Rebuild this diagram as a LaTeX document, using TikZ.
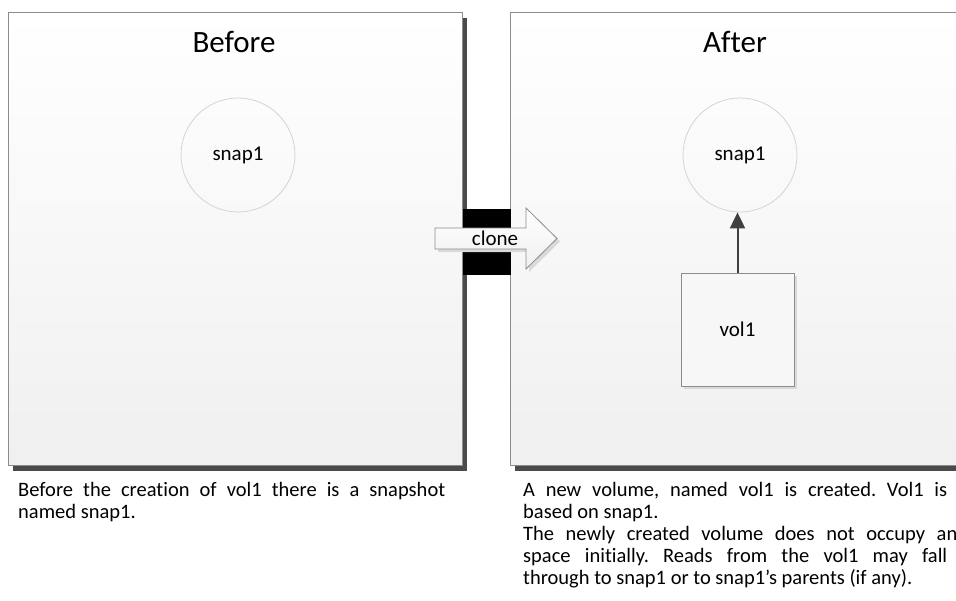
\documentclass[tikz,border=0pt]{standalone}
\usepackage{fontspec}
\setmainfont{Carlito}[Ligatures={NoCommon}]
\usetikzlibrary{arrows.meta,shadows}
\definecolor{frameline}{HTML}{8C8C8C}
\definecolor{shadeline}{HTML}{4A4A4A}
\definecolor{ringline}{HTML}{D4D4D4}
\definecolor{linkline}{HTML}{404040}
\tikzset{
  panel/.style={draw=frameline, line width=0.8pt, top color=white, bottom color=black!6},
  panelshadow/.style={fill=shadeline},
  title/.style={font=\fontsize{31}{36}\selectfont, anchor=base, inner sep=0pt},
  label/.style={font=\fontsize{21}{24}\selectfont},
  body/.style={font=\fontsize{20.5}{24}\selectfont, anchor=base west, inner sep=0pt},
  ring/.style={circle, draw=ringline, line width=0.8pt, minimum size=114pt, inner sep=0pt, label},
  volbox/.style={draw=frameline, line width=0.8pt, fill=black!3, minimum size=113pt, inner sep=0pt, label,
    drop shadow={shadow xshift=3pt, shadow yshift=-3pt, fill=black!15, opacity=1}},
  link/.style={draw=linkline, line width=2pt, -{Triangle[length=16pt,width=15pt]}},
}
\newcommand{\jline}[2]{\makebox[#1][s]{#2}}
\frenchspacing
\begin{document}
\begin{tikzpicture}[x=1pt,y=-1pt]
  \useasboundingbox (0,0) rectangle (956,600);
  \clip (0,0) rectangle (956,600);

  % panel shadows
  \fill[panelshadow] (13,18) rectangle (467,471);
  \fill[panelshadow] (515,18) rectangle (980,471);

  % panels
  \path[panel] (8,12) rectangle (462,465);
  \path[panel] (510,12) rectangle (975,465);

  \node[title] (before) at (234,52) {Before};
  \node[title] (after) at (735,52) {After};

  % snapshot in the "before" state
  \node[ring] (snapa) at (238,155) {snap1};

  % snapshot and new volume in the "after" state
  \node[ring] (snapb) at (740,155) {snap1};
  \node[volbox] (vol) at (737.5,329.5) {vol1};
  \draw[link] (vol.north) -- (vol.north |- snapb.south);

  % dark bars between the panels
  \fill[black] (463,209) rectangle (511,228);
  \fill[black] (463,249) rectangle (511,275);

  % clone block arrow
  \fill[black!15] (438,231) -- (529,231) -- (529,211) -- (560,241.5) -- (529,272) -- (529,252) -- (438,252) -- cycle;
  \path[draw=frameline, line width=0.8pt, top color=white, bottom color=black!6]
    (435,228) -- (526,228) -- (526,208) -- (557,238.5) -- (526,269) -- (526,249) -- (435,249) -- cycle;
  \node[label, anchor=base, inner sep=0pt] (clone) at (495,245) {clone};

  % captions
  \node[body] (la) at (18,496) {\jline{427pt}{Before the creation of vol1 there is a snapshot}};
  \node[body] (lb) at (18,518) {named snap1.};

  \node[body] (ra) at (523,496) {\jline{424pt}{A new volume, named vol1 is created. Vol1 is}};
  \node[body] (rb) at (523,518) {based on snap1.};
  \node[body] (rc) at (523,540) {\jline{443pt}{The newly created volume does not occupy any}};
  \node[body] (rd) at (523,562) {\jline{424pt}{space initially. Reads from the vol1 may fall}};
  \node[body] (re) at (523,584) {through to snap1 or to snap1's parents (if any).};
\end{tikzpicture}
\end{document}
